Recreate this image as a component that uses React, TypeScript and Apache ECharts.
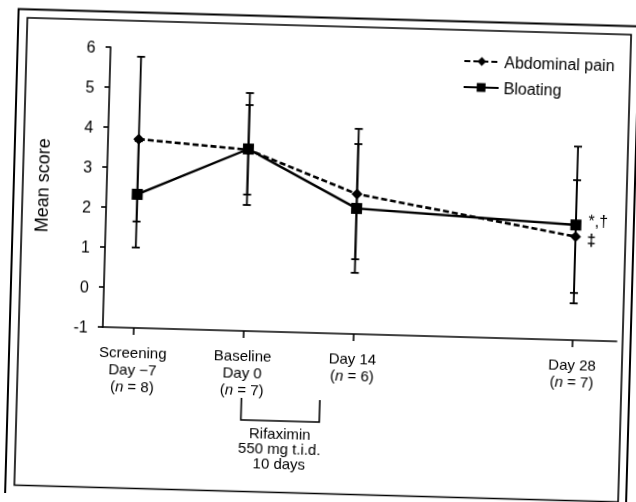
import React, { useEffect, useRef } from "react";
import * as echarts from "echarts";

// ---- data ----
const categories = ["Screening\nDay −7", "Baseline\nDay 0", "Day 14", "Day 28"];
const sampleSizes = [8, 7, 6, 7];
const xPositions = [0, 1, 2, 4];
const abdominalMean = [3.72, 3.53, 2.5, 1.59];
const abdominalSD = [2.06, 1.12, 1.63, 1.41];
const bloatingMean = [2.34, 3.55, 2.14, 1.88];
const bloatingSD = [1.33, 1.4, 1.61, 1.96];
const yMin = -1;
const yMax = 6;
const yInterval = 1;
const abdominalMark = "‡";
const bloatingMark = "*,†";
const treatmentText = ["Rifaximin", "550 mg t.i.d.", "10 days"];
const treatmentDays = 10;

const FONT = "'Liberation Sans', Arial, sans-serif";

export default function App() {
  const ref = useRef<HTMLDivElement>(null);

  useEffect(() => {
    if (!ref.current) return;
    const chart = echarts.init(ref.current, null, { renderer: "svg" });

    const last = xPositions.length - 1;
    const abdData = xPositions.map((x, i) =>
      i === last
        ? {
            value: [x, abdominalMean[i]],
            label: {
              show: true,
              formatter: abdominalMark,
              position: "right",
              distance: 6,
              offset: [0, 3],
              fontSize: 16,
              fontWeight: "bold",
              fontFamily: FONT,
              color: "#000",
            },
          }
        : [x, abdominalMean[i]]
    );
    const bloatData = xPositions.map((x, i) =>
      i === last
        ? {
            value: [x, bloatingMean[i]],
            label: {
              show: true,
              formatter: bloatingMark,
              position: "right",
              distance: 7,
              offset: [0, -4],
              fontSize: 16,
              fontFamily: FONT,
              color: "#000",
            },
          }
        : [x, bloatingMean[i]]
    );
    const errData = [
      ...xPositions.map((x, i) => [x, abdominalMean[i] - abdominalSD[i], abdominalMean[i] + abdominalSD[i]]),
      ...xPositions.map((x, i) => [x, bloatingMean[i] - bloatingSD[i], bloatingMean[i] + bloatingSD[i]]),
    ];

    const option: any = {
      animation: false,
      backgroundColor: "#fff",
      textStyle: { fontFamily: FONT, color: "#000" },
      grid: { left: 105, right: 17, top: 53, bottom: 169, containLabel: false },
      legend: {
        orient: "vertical",
        left: 453,
        top: 44,
        itemWidth: 35,
        itemHeight: 11,
        itemGap: 10,
        textStyle: { fontSize: 16, fontFamily: FONT, color: "#000", lineHeight: 16 },
        data: ["Abdominal pain", "Bloating"],
      },
      xAxis: {
        type: "value",
        min: -0.28,
        max: 4.4,
        splitLine: { show: false },
        axisLine: { onZero: false, lineStyle: { color: "#000", width: 1.6 } },
        axisTick: { customValues: xPositions, length: 7, lineStyle: { color: "#000", width: 1.6 } },
        axisLabel: {
          customValues: xPositions,
          margin: 16,
          fontSize: 15,
          lineHeight: 17,
          fontFamily: FONT,
          color: "#000",
          formatter: (v: number) => {
            const i = xPositions.indexOf(v);
            if (i < 0) return "";
            return `${categories[i]}\n({i|n} = ${sampleSizes[i]})`;
          },
          rich: {
            i: { fontStyle: "italic", fontSize: 15, lineHeight: 17, fontFamily: FONT, color: "#000" },
          },
        },
      },
      yAxis: {
        type: "value",
        min: yMin,
        max: yMax,
        interval: yInterval,
        name: "Mean score",
        nameLocation: "middle",
        nameGap: 55,
        nameTextStyle: { fontSize: 18, fontFamily: FONT, color: "#000" },
        splitLine: { show: false },
        axisLine: { show: true, onZero: false, lineStyle: { color: "#000", width: 1.6 } },
        axisTick: { show: true, length: 5, lineStyle: { color: "#000", width: 1.6 } },
        axisLabel: { margin: 15, fontSize: 16, fontFamily: FONT, color: "#000" },
      },
      series: [
        {
          type: "custom",
          name: "errors",
          z: 1,
          silent: true,
          encode: { x: 0, y: [1, 2] },
          data: errData,
          renderItem: (params: any, api: any) => {
            const x = api.value(0);
            const lo = api.coord([x, api.value(1)]);
            const hi = api.coord([x, api.value(2)]);
            const w = 4;
            const st = { stroke: "#000", lineWidth: 1.8 };
            return {
              type: "group",
              children: [
                { type: "line", shape: { x1: lo[0], y1: lo[1], x2: hi[0], y2: hi[1] }, style: st },
                { type: "line", shape: { x1: lo[0] - w, y1: lo[1], x2: lo[0] + w, y2: lo[1] }, style: st },
                { type: "line", shape: { x1: hi[0] - w, y1: hi[1], x2: hi[0] + w, y2: hi[1] }, style: st },
              ],
            };
          },
        },
        {
          type: "line",
          name: "Abdominal pain",
          z: 3,
          data: abdData,
          symbol: "diamond",
          symbolSize: 11,
          itemStyle: { color: "#000" },
          lineStyle: { color: "#000", width: 2.6, type: [6, 3] },
        },
        {
          type: "line",
          name: "Bloating",
          z: 4,
          data: bloatData,
          symbol: "rect",
          symbolSize: 11,
          itemStyle: { color: "#000" },
          lineStyle: { color: "#000", width: 2.4 },
        },
      ],
    };

    chart.setOption(option);

    const bx1 = chart.convertToPixel({ xAxisIndex: 0 }, xPositions[1]) as number;
    const bx2 = chart.convertToPixel(
      { xAxisIndex: 0 },
      xPositions[1] + (treatmentDays / 14) * (xPositions[2] - xPositions[1])
    ) as number;

    chart.setOption({
      graphic: [
        {
          type: "rect",
          shape: { x: 12, y: 17.5, width: 621, height: 485.5 },
          style: { fill: "none", stroke: "#000", lineWidth: 2 },
          silent: true,
        },
        {
          type: "rect",
          shape: { x: 21, y: 26, width: 604, height: 467.5 },
          style: { fill: "none", stroke: "#000", lineWidth: 1.6 },
          silent: true,
        },
        {
          type: "polyline",
          shape: { points: [[bx1, 400], [bx1, 422], [bx2, 422], [bx2, 400]] },
          style: { fill: "none", stroke: "#000", lineWidth: 1.6 },
          silent: true,
        },
        {
          type: "text",
          x: (bx1 + bx2) / 2,
          y: 427,
          style: {
            text: treatmentText.join("\n"),
            align: "center",
            verticalAlign: "top",
            fontSize: 15,
            lineHeight: 15,
            fontFamily: FONT,
            fill: "#000",
          },
          silent: true,
        },
      ],
    });

    return () => chart.dispose();
  }, []);

  return (
    <div
      ref={ref}
      style={{
        position: "fixed",
        left: 0,
        top: 0,
        width: 636,
        height: 502,
        transform: "rotate(1.6deg)",
        transformOrigin: "318px 251px",
      }}
    />
  );
}
